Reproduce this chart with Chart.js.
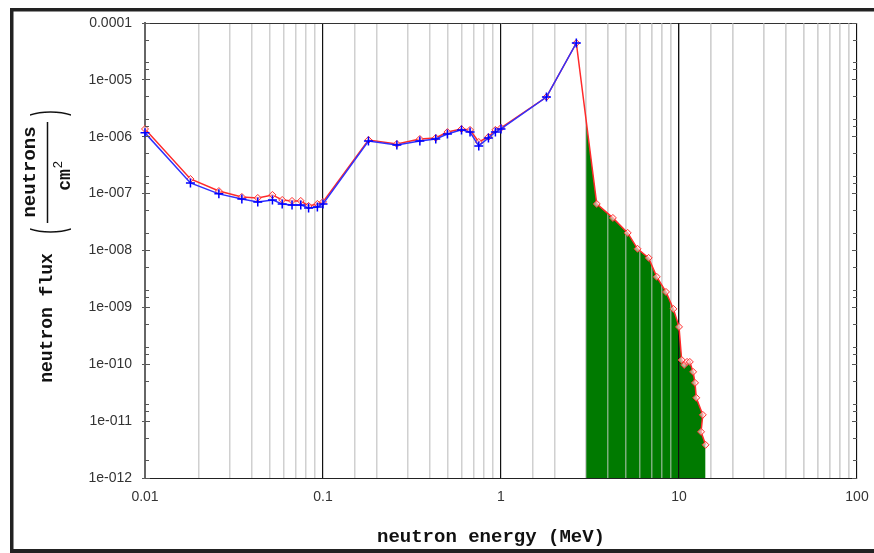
<!DOCTYPE html>
<html>
<head>
<meta charset="utf-8">
<title>neutron flux spectrum</title>
<script src="https://cdn.jsdelivr.net/npm/chart.js@4.4.1/dist/chart.umd.min.js"></script>
<style>
  html, body { margin: 0; padding: 0; background: #ffffff; }
  #wrap { position: relative; width: 874px; height: 553px; }
  canvas { display: block; }
</style>
</head>
<body>
<div id="wrap"><canvas id="c" width="874" height="553"></canvas></div>
<script>
// ---- data -------------------------------------------------------------
// energy points (MeV) and flux (neutrons / cm^2)
const BLUE_E = [0.01, 0.018, 0.026, 0.035, 0.043, 0.052, 0.059, 0.067, 0.075, 0.083, 0.093, 0.1,
                0.18, 0.26, 0.35, 0.43, 0.5, 0.6, 0.67, 0.75, 0.85, 0.93, 1.0, 1.8, 2.65];
const BLUE_F = [1.17e-6, 1.54e-7, 9.9e-8, 8.07e-8, 7.15e-8, 7.75e-8, 6.59e-8, 6.33e-8, 6.33e-8, 5.6e-8, 5.84e-8, 6.59e-8,
                8.43e-7, 7.18e-7, 8.43e-7, 9.14e-7, 1.12e-6, 1.32e-6, 1.21e-6, 6.89e-7, 9.53e-7, 1.21e-6, 1.37e-6, 5.0e-6, 4.45e-5];

const RED_E = [0.01, 0.018, 0.026, 0.035, 0.043, 0.052, 0.059, 0.067, 0.075, 0.083, 0.093, 0.1,
               0.18, 0.26, 0.35, 0.43, 0.5, 0.6, 0.67, 0.75, 0.85, 0.93, 1.0, 1.8, 2.65,
               3.45, 4.25, 5.15, 5.85, 6.75, 7.5, 8.45, 9.3, 10.0, 10.35, 10.7, 11.1, 11.5, 12.0, 12.3, 12.5, 13.6, 13.3, 14.1];
const RED_F = [1.37e-6, 1.81e-7, 1.11e-7, 8.75e-8, 8.4e-8, 9.49e-8, 7.75e-8, 7.45e-8, 7.45e-8, 6.08e-8, 6.59e-8, 7.15e-8,
               8.78e-7, 7.47e-7, 9.14e-7, 9.53e-7, 1.21e-6, 1.37e-6, 1.32e-6, 8.1e-7, 9.91e-7, 1.32e-6, 1.43e-6, 5.0e-6, 4.45e-5,
               6.59e-8, 3.74e-8, 2.04e-8, 1.07e-8, 7.42e-9, 3.44e-9, 1.87e-9, 9.4e-10, 4.54e-10, 1.19e-10, 9.75e-11, 1.1e-10, 1.1e-10,
               7.35e-11, 4.71e-11, 2.57e-11, 1.29e-11, 6.49e-12, 3.83e-12];

// shaded part of the red spectrum starts here (MeV)
const FILL_FROM = 3;

const X_TICKS = [0.01, 0.1, 1, 10, 100];
const X_TICK_LABELS = ['0.01', '0.1', '1', '10', '100'];
const Y_TICKS = [1e-12, 1e-11, 1e-10, 1e-9, 1e-8, 1e-7, 1e-6, 1e-5, 1e-4];
const Y_TICK_LABELS = ['1e-012', '1e-011', '1e-010', '1e-009', '1e-008', '1e-007', '1e-006', '1e-005', '0.0001'];

const X_TITLE = 'neutron energy (MeV)';
const Y_TITLE = 'neutron flux';
const Y_UNIT_TOP = 'neutrons';
const Y_UNIT_BOTTOM = 'cm';
const Y_UNIT_POWER = '2';

// ---- helpers ----------------------------------------------------------
const near = (a, b) => Math.abs(Math.log10(a) - Math.log10(b)) < 1e-6;
const isDecade = v => Math.abs(Math.log10(v) - Math.round(Math.log10(v))) < 1e-6;
const mantissa = v => Math.round(v / Math.pow(10, Math.floor(Math.log10(v) + 1e-9)));
const labelFrom = (ticks, labels) => v => {
  const i = ticks.findIndex(t => near(t, v));
  return i >= 0 ? labels[i] : '';
};
const alignPx = (p, w) => Math.round(p - w / 2) + w / 2;
const toPoints = (xs, ys) => xs.map((x, i) => ({ x: x, y: ys[i] }));

const MINOR_GRID = '#d0d0d0';
const MAJOR_GRID = '#111111';

// ---- decorations: clipped fill, grid over fill, inner ticks, titles, frame
const decor = {
  id: 'decor',
  beforeDatasetsDraw(chart) {
    // the shaded dataset is drawn first; limit it to E >= FILL_FROM
    const { ctx, chartArea: a, scales: { x } } = chart;
    const x0 = x.getPixelForValue(FILL_FROM);
    ctx.save();
    ctx.beginPath();
    ctx.rect(x0, a.top, a.right - x0, a.bottom - a.top);
    ctx.clip();
  },
  afterDatasetDraw(chart, args) {
    if (args.index !== 0) return;
    const { ctx, chartArea: a, scales: { x } } = chart;
    ctx.restore();
    // vertical grid shows through the shaded area
    const x0 = x.getPixelForValue(FILL_FROM);
    ctx.save();
    ctx.beginPath();
    ctx.rect(x0, a.top, a.right - x0, a.bottom - a.top);
    ctx.clip();
    x.ticks.forEach(t => {
      const dec = isDecade(t.value);
      const w = dec ? 1.2 : 1.5;
      const px = alignPx(x.getPixelForValue(t.value), w);
      ctx.strokeStyle = dec ? MAJOR_GRID : 'rgba(208,208,208,0.6)';
      ctx.lineWidth = w;
      ctx.beginPath();
      ctx.moveTo(px, a.top);
      ctx.lineTo(px, a.bottom);
      ctx.stroke();
    });
    ctx.restore();
  },
  afterDraw(chart) {
    const { ctx, chartArea: a, scales: { y } } = chart;

    // small inner tick marks on the left and right axes
    ctx.save();
    ctx.strokeStyle = '#555';
    ctx.lineWidth = 1;
    y.ticks.forEach(t => {
      const m = mantissa(t.value);
      let len = 0;
      if (isDecade(t.value)) len = 5;
      else if (m === 2 || m === 5) len = 4;
      if (!len) return;
      const py = alignPx(y.getPixelForValue(t.value), 1);
      ctx.beginPath();
      ctx.moveTo(a.left, py); ctx.lineTo(a.left + len, py);
      ctx.moveTo(a.right - len, py); ctx.lineTo(a.right, py);
      ctx.stroke();
    });
    ctx.restore();

    // x-axis title
    ctx.save();
    ctx.fillStyle = '#111';
    ctx.textAlign = 'center';
    ctx.textBaseline = 'alphabetic';
    ctx.font = 'bold 19px "Liberation Mono", monospace';
    ctx.fillText(X_TITLE, 491, 542);
    ctx.restore();

    // rotated y-axis title: neutron flux (neutrons / cm^2)
    ctx.save();
    ctx.rotate(-Math.PI / 2);            // screen (X, Y) -> (u, v) = (-Y, X)
    ctx.fillStyle = '#111';
    ctx.strokeStyle = '#111';
    ctx.textBaseline = 'alphabetic';
    ctx.textAlign = 'center';
    ctx.font = 'bold 18px "Liberation Mono", monospace';
    ctx.fillText(Y_TITLE, -318, 52);
    ctx.font = 'bold 19px "Liberation Mono", monospace';
    ctx.fillText(Y_UNIT_TOP, -172, 35);
    // fraction bar
    ctx.lineWidth = 1.5;
    ctx.beginPath();
    ctx.moveTo(-223, 47.5);
    ctx.lineTo(-122, 47.5);
    ctx.stroke();
    // denominator with superscript
    ctx.textAlign = 'left';
    ctx.font = 'bold 18px "Liberation Mono", monospace';
    const wcm = ctx.measureText(Y_UNIT_BOTTOM).width;
    const u0 = -176 - (wcm + 8) / 2;
    ctx.fillText(Y_UNIT_BOTTOM, u0, 70);
    ctx.font = '13px "Liberation Sans", Arial, sans-serif';
    ctx.fillText(Y_UNIT_POWER, u0 + wcm + 1, 62);
    // parentheses around the unit
    ctx.textAlign = 'center';
    ctx.textBaseline = 'middle';
    ctx.font = '44px "Liberation Sans", Arial, sans-serif';
    [['(', -231], [')', -113]].forEach(([ch, u]) => {
      ctx.save();
      ctx.translate(u, 47.5);
      ctx.scale(0.38, 1);
      ctx.fillText(ch, 0, 2);
      ctx.restore();
    });
    ctx.restore();

    // outer frame
    ctx.save();
    ctx.fillStyle = '#222';
    ctx.fillRect(10, 8, 3.5, 545);
    ctx.fillRect(10, 8, 864, 3.5);
    ctx.fillRect(10, 549, 864, 4);
    ctx.restore();
  }
};

// ---- chart ------------------------------------------------------------
new Chart(document.getElementById('c'), {
  type: 'line',
  data: {
    datasets: [
      {
        // shaded area under the red spectrum
        data: toPoints(RED_E, RED_F),
        borderWidth: 0,
        borderColor: 'rgba(0,0,0,0)',
        backgroundColor: '#007a00',
        fill: 'start',
        pointRadius: 0,
        pointHoverRadius: 0,
        order: 3
      },
      {
        data: toPoints(RED_E, RED_F),
        borderColor: '#ff2a2a',
        borderWidth: 1.5,
        fill: false,
        pointStyle: 'rectRot',
        pointRadius: 3.5,
        pointBorderWidth: 1,
        pointBorderColor: '#ff3030',
        pointBackgroundColor: 'rgba(255,235,235,0.6)',
        clip: 8,
        order: 2
      },
      {
        data: toPoints(BLUE_E, BLUE_F),
        borderColor: '#3030ff',
        borderWidth: 1.5,
        fill: false,
        pointStyle: 'cross',
        pointRadius: 4.5,
        pointBorderWidth: 1.5,
        pointBorderColor: '#0000ff',
        clip: 8,
        order: 1
      }
    ]
  },
  options: {
    responsive: false,
    devicePixelRatio: 1,
    animation: false,
    events: [],
    layout: { padding: { left: 0, right: 17, top: 23, bottom: 0 } },
    plugins: {
      legend: { display: false },
      tooltip: { enabled: false }
    },
    scales: {
      x: {
        type: 'logarithmic',
        min: 0.01,
        max: 100,
        afterFit: s => { s.height = 75; s.paddingLeft = 0; s.paddingRight = 0; },
        border: { display: true, color: '#222', width: 1 },
        grid: {
          drawTicks: false,
          color: c => near(c.tick.value, 100) ? '#666' : (isDecade(c.tick.value) ? MAJOR_GRID : MINOR_GRID),
          lineWidth: c => isDecade(c.tick.value) ? 1.2 : 1.5
        },
        ticks: {
          autoSkip: false,
          maxRotation: 0,
          padding: 11,
          color: '#333',
          font: { family: '"Liberation Sans", Arial, sans-serif', size: 14 },
          callback: labelFrom(X_TICKS, X_TICK_LABELS)
        }
      },
      y: {
        type: 'logarithmic',
        min: 1e-12,
        max: 1e-4,
        afterFit: s => { s.width = 145; s.paddingTop = 0; s.paddingBottom = 0; },
        border: { display: true, color: '#666', width: 2 },
        grid: {
          drawTicks: true,
          tickLength: 3,
          tickWidth: 1,
          tickColor: c => isDecade(c.tick.value) ? '#555' : 'rgba(0,0,0,0)',
          color: c => near(c.tick.value, 1e-4) ? '#333' : 'rgba(0,0,0,0)',
          lineWidth: 1
        },
        ticks: {
          autoSkip: false,
          padding: 10,
          color: '#333',
          font: { family: '"Liberation Sans", Arial, sans-serif', size: 14 },
          callback: labelFrom(Y_TICKS, Y_TICK_LABELS)
        }
      }
    }
  },
  plugins: [decor]
});
</script>
</body>
</html>
